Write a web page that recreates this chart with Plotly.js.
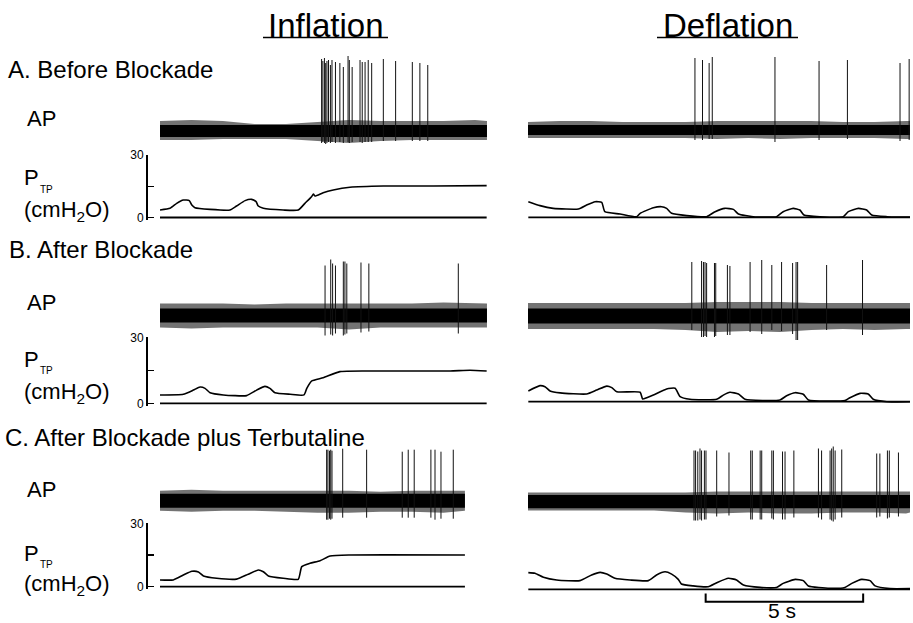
<!DOCTYPE html>
<html><head><meta charset="utf-8">
<script src="https://cdn.plot.ly/plotly-3.0.1.min.js"></script>
<style>html,body{margin:0;padding:0;background:#fff}#chart{width:913px;height:623px}</style>
</head><body><div id="chart"></div>
<script>
// ================= DATA =================
// Time: seconds from start of each sweep. AP: relative amplitude (a.u.). P_TP: cmH2O.

// ---- A. Before Blockade, Inflation ----
const A_inf_spikeT   = [5.13,5.17,5.22,5.26,5.30,5.35,5.41,5.46,5.57,5.71,5.82,5.97,6.01,6.10,6.35,6.42,6.51,6.61,6.72,7.09,7.48,8.01,8.25,8.50];
const A_inf_spikeTop = [72,70,73,68,70,71,66,71,69,68,64,75,71,64,71,69,69,71,68,72,70,69,68,66];
const A_inf_spikeBot = [-12,-11,-12,-13,-12,-11,-12,-11,-12,-11,-12,-11,-12,-11,-11,-12,-11,-11,-11,-10,-10,-10,-10,-10];
const A_inf_envT  = [0,1,2,3,4,5,6,7,8,9,10,10.38];
const A_inf_outHi = [10,11,10,7,7,9,11,10,10,10,11,10];
const A_inf_outLo = [-9,-9,-8,-8,-8,-10,-12,-10,-9,-9,-9,-9];
const A_inf_coreHi = [6,6,6,5.5,5.5,6,6,6,6,6,6,6];
const A_inf_coreLo = [-6,-6,-6,-5.5,-5.5,-6,-6,-6,-6,-6,-6,-6];
const A_inf_pT = [0,0.32,0.53,0.74,0.93,1.01,1.11,1.59,2.22,2.43,2.70,2.91,3.05,3.12,3.28,3.91,4.39,4.60,4.81,4.87,4.92,5.18,5.50,6.03,7.09,8.68,10.37];
const A_inf_pV = [3.6,4.4,6.8,8.4,8.1,6.0,4.7,3.9,3.6,5.5,8.1,8.7,7.6,5.5,4.4,3.6,3.6,6.8,10.0,11.3,10.3,11.9,13.2,14.5,15.1,15.1,15.3];

// ---- A. Before Blockade, Deflation ----
const A_def_spikeT   = [5.30,5.54,5.75,5.85,7.84,9.24,10.14,11.81,12.10];
const A_def_spikeTop = [72,70,67,73,73,69,70,67,71];
const A_def_spikeBot = [-10,-10,-9,-9,-12,-10,-9,-11,-10];
const A_def_envT  = [0,1,2,3,4,5,6,7,8,9,10,11,12,12.13];
const A_def_outHi = [8,9,9,8,8,8,9,9,9,9,8,8,9,9];
const A_def_outLo = [-8,-8,-8,-8,-8,-8,-9,-8,-9,-8,-8,-8,-9,-9];
const A_def_coreHi = [5,5,5,5,5,5,5,5,5,5,5,5,5,5];
const A_def_coreLo = [-5,-5,-5,-5,-5,-5,-5,-5,-5,-5,-5,-5,-5,-5];
const A_def_pT = [0.01,0.38,0.80,1.60,1.86,2.13,2.34,2.44,2.92,3.45,3.56,3.98,4.24,4.40,4.56,5.04,5.67,5.94,6.25,6.52,6.68,7.15,7.89,8.10,8.42,8.63,8.76,9.27,10.01,10.17,10.49,10.75,10.91,11.39,12.13];
const A_def_pV = [7.5,5.6,4.3,4.0,5.9,7.5,7.2,2.7,1.6,0.3,1.9,4.6,5.1,4.3,1.9,0.8,0.3,2.7,4.3,3.8,1.6,0.3,0.3,2.7,4.3,3.5,1.1,0.3,0.3,2.7,4.3,3.5,1.1,0.3,0.1];

// ---- B. After Blockade, Inflation ----
const B_inf_spikeT   = [5.24,5.42,5.48,5.57,5.82,5.87,5.93,6.38,6.63,9.47];
const B_inf_spikeTop = [50,56,52,50,54,54,52,53,52,52];
const B_inf_spikeBot = [-20,-19,-20,-18,-20,-19,-18,-17,-16,-18];
const B_inf_envT  = [0,1,2,3,4,5,6,7,8,9,10,10.38];
const B_inf_outHi = [12,12,12,11,12,12,12,12,12,13,12,12];
const B_inf_outLo = [-12,-13,-12,-12,-12,-12,-14,-12,-12,-12,-12,-12];
const B_inf_coreHi = [7,7,7,7,7,7,7,7,7,7,7,7];
const B_inf_coreLo = [-7,-7,-7,-7,-7,-7,-7,-7,-7,-7,-7,-7];
const B_inf_pT = [0,0.74,1.06,1.27,1.43,1.59,2.01,2.75,3.07,3.33,3.49,3.65,4.13,4.57,4.66,4.81,5.18,5.71,6.56,8.15,9.21,9.84,10.37];
const B_inf_pV = [3.8,4.1,6.0,7.4,6.8,4.8,3.8,3.5,6.0,7.7,6.8,4.8,4.1,3.8,6.8,10.1,11.6,14.4,14.7,14.7,14.7,15.0,14.7];

// ---- B. After Blockade, Deflation ----
const B_def_spikeT   = [5.20,5.51,5.57,5.62,5.67,5.92,5.96,6.33,6.41,7.05,7.42,7.74,8.05,8.40,8.51,8.56,9.48,10.62];
const B_def_spikeTop = [54,55,54,54,53,53,53,51,50,54,56,51,54,53,54,54,51,56];
const B_def_spikeBot = [-14,-21,-21,-20,-21,-21,-20,-19,-19,-16,-18,-14,-15,-18,-24,-24,-14,-19];
const B_def_envT  = [0,1,2,3,4,5,6,7,8,9,10,11,12,12.13];
const B_def_outHi = [13,13,13,13,13,13,14,14,14,13,13,13,13,13];
const B_def_outLo = [-13,-13,-13,-13,-13,-14,-16,-15,-16,-14,-13,-14,-13,-13];
const B_def_coreHi = [7.5,7.5,7.5,7.5,7.5,7.5,7.5,7.5,7.5,7.5,7.5,7.5,7.5,7.5];
const B_def_coreLo = [-7.5,-7.5,-7.5,-7.5,-7.5,-7.5,-7.5,-7.5,-7.5,-7.5,-7.5,-7.5,-7.5,-7.5];
const B_def_pT = [0.01,0.38,0.54,0.70,1.02,1.86,2.18,2.50,2.66,2.82,3.56,3.64,3.77,3.98,4.40,4.67,4.83,5.14,5.99,6.20,6.41,6.68,6.89,8.0,8.21,8.48,8.74,8.90,10.06,10.22,10.54,10.80,10.96,11.39,12.13];
const B_def_pV = [4.9,7.3,6.8,4.9,4.0,3.5,5.3,7.1,6.4,4.5,4.3,1.2,1.8,3.0,5.8,6.1,2.3,1.1,1.1,3.0,4.3,3.5,1.1,0.8,2.7,4.1,3.4,0.8,0.5,1.8,3.8,3.5,1.1,0,0];

// ---- C. After Blockade plus Terbutaline, Inflation ----
const C_inf_spikeT   = [5.29,5.33,5.38,5.42,5.46,5.80,6.56,7.69,7.88,8.07,8.60,8.73,8.92,9.31];
const C_inf_spikeTop = [51,51,50,51,50,52,51,49,51,51,51,51,49,51];
const C_inf_spikeBot = [-19,-19,-18,-19,-18,-17,-17,-17,-17,-17,-17,-19,-18,-18];
const C_inf_envT  = [0,1,2,3,4,5,6,7,8,9,9.68];
const C_inf_outHi = [10,11,10,10,10,10,10,9,10,10,10];
const C_inf_outLo = [-10,-11,-10,-10,-11,-12,-12,-11,-11,-12,-10];
const C_inf_coreHi = [7,7,7,7,7,7,7,7,7,7,7];
const C_inf_coreLo = [-7,-7,-7,-7,-7,-7,-7,-7,-7,-7,-7];
const C_inf_pT = [0,0.42,0.74,1.01,1.22,1.38,1.80,2.43,2.80,3.12,3.28,3.44,3.91,4.39,4.50,4.76,5.08,5.40,6.03,9.68];
const C_inf_pV = [3.2,3.2,5.5,7.3,7.0,5.1,4.0,3.6,5.9,7.9,7.1,5.1,4.0,3.5,9.5,11.1,12.3,14.5,15.0,15.0];

// ---- C. After Blockade plus Terbutaline, Deflation ----
const C_def_spikeT   = [5.27,5.32,5.39,5.46,5.51,5.60,5.65,5.99,6.38,7.07,7.12,7.37,7.42,7.74,7.79,8.08,8.16,8.44,9.22,9.32,9.59,9.64,9.69,9.75,9.96,11.07,11.17,11.41,11.47,11.76];
const C_def_spikeTop = [51,51,50,53,51,51,51,51,49,51,51,51,51,51,51,50,50,51,53,51,51,53,55,51,52,48,48,51,51,49];
const C_def_spikeBot = [-19,-19,-19,-18,-19,-18,-18,-15,-14,-18,-18,-18,-18,-17,-18,-18,-18,-16,-16,-18,-18,-19,-20,-18,-16,-16,-15,-17,-16,-15];
const C_def_envT  = [0,1,2,3,4,5,6,7,8,9,10,11,12,12.13];
const C_def_outHi = [9,9,9,9,9,9,10,10,10,10,10,10,10,10];
const C_def_outLo = [-9,-9,-9,-9,-9,-11,-12,-11,-12,-12,-11,-11,-12,-11];
const C_def_coreHi = [6.5,6.5,6.5,6.5,6.5,6.5,6.5,6.5,6.5,6.5,6.5,6.5,6.5,6.5];
const C_def_coreLo = [-6.8,-6.8,-6.8,-6.8,-6.8,-6.8,-6.8,-6.8,-6.8,-6.8,-6.8,-6.8,-6.8,-6.8];
const C_def_pT = [0.01,0.22,0.49,0.91,1.65,2.02,2.29,2.50,2.76,3.24,3.82,4.08,4.35,4.56,4.77,4.87,5.24,5.72,5.99,6.36,6.62,6.84,7.37,7.89,8.10,8.48,8.74,8.90,9.59,10.06,10.28,10.59,10.86,11.02,11.49,12.13];
const C_def_pV = [7.9,7.6,5.7,4.4,4.1,6.8,8.0,7.2,5.2,4.4,4.1,6.8,8.3,7.2,4.7,2.5,1.6,1.2,3.1,5.2,4.4,2.0,0.9,0.9,2.8,4.7,4.1,1.6,0.5,0.9,2.8,4.7,4.1,1.6,0.3,0.3];

// Scale bar (seconds) and P_TP axis ticks
const scaleBarSec = [5.64, 10.64];
const pTickVals = [0, 30];
const pTickText = ['0', '30'];
const pMinorTickVals = [15];

// ================= LAYOUT GEOMETRY =================
const W = 913, H = 623;
const PX_PER_S = 31.5;
const xp = px => px / W;
const yp = px => 1 - px / H;

const colGeom = {
  inf: {x0: 160, x1: 487, xa: 'x'},
  def: {x0: 528, x1: 910, xa: 'x2'}
};
const panelGeom = {
  A_inf: {ap: 131,   p0: 217.5, ppu: 2.083},
  A_def: {ap: 130,   p0: 217.3, ppu: 2.083},
  B_inf: {ap: 315.5, p0: 403.3, ppu: 2.2},
  B_def: {ap: 316,   p0: 401.7, ppu: 2.2},
  C_inf: {ap: 500.7, p0: 586.7, ppu: 2.113},
  C_def: {ap: 501.5, p0: 589.3, ppu: 2.113}
};

const panels = [
  {id:'A_inf', col:'inf', sT:A_inf_spikeT, sTop:A_inf_spikeTop, sBot:A_inf_spikeBot, eT:A_inf_envT, oHi:A_inf_outHi, oLo:A_inf_outLo, cHi:A_inf_coreHi, cLo:A_inf_coreLo, pT:A_inf_pT, pV:A_inf_pV},
  {id:'A_def', col:'def', sT:A_def_spikeT, sTop:A_def_spikeTop, sBot:A_def_spikeBot, eT:A_def_envT, oHi:A_def_outHi, oLo:A_def_outLo, cHi:A_def_coreHi, cLo:A_def_coreLo, pT:A_def_pT, pV:A_def_pV},
  {id:'B_inf', col:'inf', sT:B_inf_spikeT, sTop:B_inf_spikeTop, sBot:B_inf_spikeBot, eT:B_inf_envT, oHi:B_inf_outHi, oLo:B_inf_outLo, cHi:B_inf_coreHi, cLo:B_inf_coreLo, pT:B_inf_pT, pV:B_inf_pV},
  {id:'B_def', col:'def', sT:B_def_spikeT, sTop:B_def_spikeTop, sBot:B_def_spikeBot, eT:B_def_envT, oHi:B_def_outHi, oLo:B_def_outLo, cHi:B_def_coreHi, cLo:B_def_coreLo, pT:B_def_pT, pV:B_def_pV},
  {id:'C_inf', col:'inf', sT:C_inf_spikeT, sTop:C_inf_spikeTop, sBot:C_inf_spikeBot, eT:C_inf_envT, oHi:C_inf_outHi, oLo:C_inf_outLo, cHi:C_inf_coreHi, cLo:C_inf_coreLo, pT:C_inf_pT, pV:C_inf_pV},
  {id:'C_def', col:'def', sT:C_def_spikeT, sTop:C_def_spikeTop, sBot:C_def_spikeBot, eT:C_def_envT, oHi:C_def_outHi, oLo:C_def_outLo, cHi:C_def_coreHi, cLo:C_def_coreLo, pT:C_def_pT, pV:C_def_pV}
];

const FONT = 'Liberation Sans, Arial, Helvetica, sans-serif';
const AP_RANGE = [-30, 82];
const P_RANGE = [-1, 30];

const layout = {
  width: W, height: H,
  margin: {l: 0, r: 0, t: 0, b: 0},
  paper_bgcolor: '#fff', plot_bgcolor: 'rgba(0,0,0,0)',
  showlegend: false, hovermode: false,
  font: {family: FONT, color: '#000'},
  xaxis:  {domain: [xp(160), xp(487)], range: [0, (487 - 160) / PX_PER_S], visible: false, fixedrange: true},
  xaxis2: {domain: [xp(528), xp(910)], range: [0, (910 - 528) / PX_PER_S], visible: false, fixedrange: true},
  annotations: [], shapes: []
};

const traces = [];
function band(t, hi, lo) {
  return {x: t.concat(t.slice().reverse()), y: hi.concat(lo.slice().reverse())};
}

panels.forEach((p, i) => {
  const g = panelGeom[p.id];
  const c = colGeom[p.col];
  const apN = 2 * i + 1, pN = 2 * i + 2;
  const apKey = apN === 1 ? 'yaxis' : 'yaxis' + apN;
  const pKey = 'yaxis' + pN;
  const apRef = apN === 1 ? 'y' : 'y' + apN;
  const pRef = 'y' + pN;

  layout[apKey] = {
    domain: [yp(g.ap - AP_RANGE[0]), yp(g.ap - AP_RANGE[1])],
    range: AP_RANGE, visible: false, anchor: c.xa, fixedrange: true
  };
  const pAxis = {
    domain: [yp(g.p0 - P_RANGE[0] * g.ppu), yp(g.p0 - P_RANGE[1] * g.ppu)],
    range: P_RANGE, anchor: c.xa, fixedrange: true, showgrid: false, zeroline: false
  };
  if (p.col === 'inf') {
    Object.assign(pAxis, {
      visible: true, anchor: 'free', position: xp(146),
      showline: true, linecolor: '#000', linewidth: 1.5,
      ticks: 'inside', ticklen: 6, tickwidth: 1.5, tickcolor: '#000',
      tickmode: 'array', tickvals: pTickVals, ticktext: pTickText,
      tickfont: {family: FONT, size: 12, color: '#000'},
      minor: {tickmode: 'array', tickvals: pMinorTickVals, ticks: 'inside', ticklen: 6, tickwidth: 1.5, tickcolor: '#000', showgrid: false}
    });
  } else {
    pAxis.visible = false;
  }
  layout[pKey] = pAxis;

  const ob = band(p.eT, p.oHi, p.oLo);
  traces.push({type: 'scatter', mode: 'lines', x: ob.x, y: ob.y, xaxis: c.xa, yaxis: apRef,
    fill: 'toself', fillcolor: 'rgba(0,0,0,0.55)', line: {width: 0}});
  const cb = band(p.eT, p.cHi, p.cLo);
  traces.push({type: 'scatter', mode: 'lines', x: cb.x, y: cb.y, xaxis: c.xa, yaxis: apRef,
    fill: 'toself', fillcolor: '#000', line: {width: 0}});
  const sx = [], sy = [];
  p.sT.forEach((t, k) => { sx.push(t, t, null); sy.push(p.sBot[k], p.sTop[k], null); });
  traces.push({type: 'scatter', mode: 'lines', x: sx, y: sy, xaxis: c.xa, yaxis: apRef,
    line: {color: '#111', width: 1}, connectgaps: false});
  traces.push({type: 'scatter', mode: 'lines', x: [p.pT[0], p.pT[p.pT.length - 1]], y: [0, 0],
    xaxis: c.xa, yaxis: pRef, line: {color: '#000', width: 1.8}});
  traces.push({type: 'scatter', mode: 'lines', x: p.pT, y: p.pV, xaxis: c.xa, yaxis: pRef,
    line: {color: '#000', width: 1.6, shape: 'spline', smoothing: 0.5}});
});

function ann(text, xPx, yPx, size, xanchor) {
  layout.annotations.push({text: text, xref: 'paper', yref: 'paper', x: xp(xPx), y: yp(yPx),
    xanchor: xanchor || 'left', yanchor: 'middle', showarrow: false,
    font: {family: FONT, size: size, color: '#000'}, borderpad: 0});
}
ann('Inflation', 325.5, 25, 33, 'center');
ann('Deflation', 727.5, 25, 33, 'center');
layout.shapes.push({type: 'line', xref: 'paper', yref: 'paper', x0: xp(263), x1: xp(388), y0: yp(37.5), y1: yp(37.5), line: {color: '#000', width: 1.5}});
layout.shapes.push({type: 'line', xref: 'paper', yref: 'paper', x0: xp(657), x1: xp(798), y0: yp(37.5), y1: yp(37.5), line: {color: '#000', width: 1.5}});

const rowText = [
  {label: 'A. Before Blockade', lx: 7, ly: 69.5, apY: 118, pY: 177.5, cmY: 211},
  {label: 'B. After Blockade', lx: 8, ly: 249.5, apY: 302.5, pY: 359, cmY: 393},
  {label: 'C. After Blockade plus Terbutaline', lx: 4, ly: 437.5, apY: 489, pY: 553, cmY: 585}
];
rowText.forEach(r => {
  ann(r.label, r.lx, r.ly, 24);
  ann('AP', 26, r.apY, 22);
  ann('P', 23, r.pY, 22);
  ann('TP', 39, r.pY + 11.5, 10);
  ann('(cmH<sub>2</sub>O)', 23, r.cmY, 22);
});

const sb0 = scaleBarSec[0], sb1 = scaleBarSec[1];
layout.shapes.push({type: 'path', xref: 'x2', yref: 'paper',
  path: 'M ' + sb0 + ',' + yp(593.5) + ' L ' + sb0 + ',' + yp(601.7) + ' L ' + sb1 + ',' + yp(601.7) + ' L ' + sb1 + ',' + yp(593.5),
  line: {color: '#000', width: 2}});
ann('5 s', 782, 610, 21, 'center');

Plotly.newPlot('chart', traces, layout, {staticPlot: true, displayModeBar: false});
</script>
</body></html>
